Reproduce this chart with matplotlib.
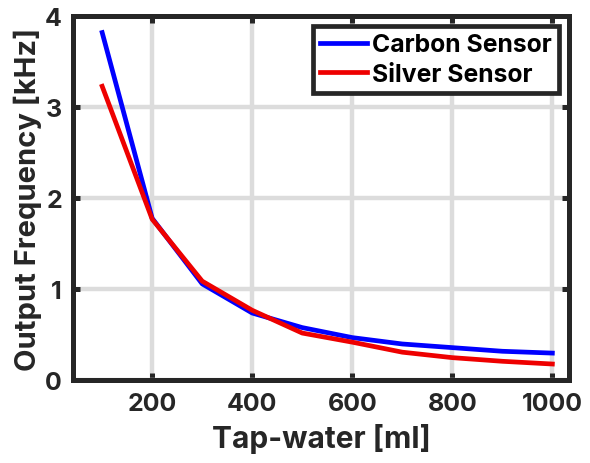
import matplotlib
matplotlib.use("Agg")
import matplotlib.pyplot as plt

# Tap-water volume [ml]
volume = [100, 200, 300, 400, 500, 600, 700, 800, 900, 1000]

# Output frequency [kHz]
carbon = [3.82, 1.78, 1.06, 0.74, 0.58, 0.47, 0.40, 0.36, 0.32, 0.30]
silver = [3.23, 1.77, 1.09, 0.77, 0.52, 0.42, 0.31, 0.25, 0.21, 0.18]

x_ticks = [200, 400, 600, 800, 1000]
y_ticks = [0, 1, 2, 3, 4]

plt.rcParams["font.family"] = ["Inter", "DejaVu Sans"]
plt.rcParams["font.weight"] = "bold"

dark = "#262626"

fig = plt.figure(figsize=(5.9, 4.64), dpi=100)
ax = fig.add_axes([0.124, 0.178, 0.841, 0.785])

ax.plot(volume, carbon, color="#0000ff", linewidth=3.4, label="Carbon Sensor")
ax.plot(volume, silver, color="#ee0000", linewidth=3.4, label="Silver Sensor")

ax.set_xlim(42, 1034)
ax.set_ylim(0, 4)
ax.set_xticks(x_ticks)
ax.set_yticks(y_ticks)

ax.grid(True, color="#dcdcdc", linewidth=3.2)
ax.set_axisbelow(True)

for s in ax.spines.values():
    s.set_linewidth(3.6)
    s.set_color(dark)

ax.tick_params(direction="in", length=5, width=3.6, color=dark,
               labelsize=18, labelcolor=dark, top=True, right=True, pad=8)
for lbl in ax.get_xticklabels() + ax.get_yticklabels():
    lbl.set_fontweight("bold")

ax.set_xlabel("Tap-water [ml]", fontsize=21.5, fontweight="bold", color=dark, labelpad=6)
ax.set_ylabel("Output Frequency [kHz]", fontsize=21, fontweight="bold", color=dark, labelpad=2)

leg = ax.legend(loc="upper right", fontsize=17.8, frameon=True, fancybox=False,
                handlelength=1.9, handletextpad=0.2, borderpad=0.3,
                labelspacing=0.25, borderaxespad=0.4)
leg.get_frame().set_edgecolor(dark)
leg.get_frame().set_linewidth(3.4)
leg.get_frame().set_alpha(1)
for t in leg.get_texts():
    t.set_fontweight("bold")
    t.set_color("black")

fig.savefig("out.png", dpi=100)
